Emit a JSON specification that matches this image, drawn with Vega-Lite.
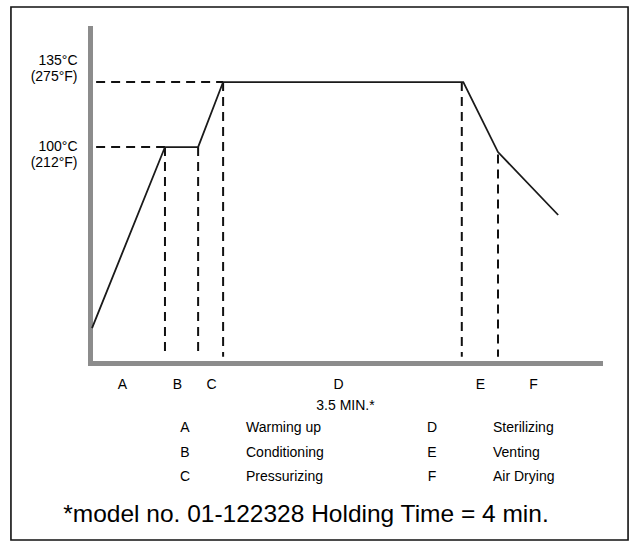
{
  "$schema": "https://vega.github.io/schema/vega-lite/v6.json",
  "width": 510,
  "height": 335,
  "autosize": {"type": "none"},
  "padding": {"left": 90, "top": 28, "right": 30, "bottom": 183},
  "background": "white",
  "config": {"view": {"stroke": null}, "font": "Liberation Sans"},
  "datasets": {
    "curve": [
      {"t": 0.04, "temp": 2.5},
      {"t": 1.47, "temp": 100},
      {"t": 2.12, "temp": 100},
      {"t": 2.61, "temp": 135},
      {"t": 7.32, "temp": 135},
      {"t": 8.0, "temp": 97.3},
      {"t": 9.18, "temp": 63.4}
    ],
    "guides": [
      {"t": 0.12, "t2": 2.61, "temp": 135, "temp2": 135},
      {"t": 0.12, "t2": 1.47, "temp": 100, "temp2": 100},
      {"t": 1.47, "t2": 1.47, "temp": 100, "temp2": -13},
      {"t": 2.12, "t2": 2.12, "temp": 100, "temp2": -13},
      {"t": 2.61, "t2": 2.61, "temp": 135, "temp2": -13},
      {"t": 7.29, "t2": 7.29, "temp": 135, "temp2": -13},
      {"t": 8.0, "t2": 8.0, "temp": 96, "temp2": -13}
    ],
    "legend": [
      {"code": "A", "name": "Warming up", "col": 1, "row": 1},
      {"code": "B", "name": "Conditioning", "col": 1, "row": 2},
      {"code": "C", "name": "Pressurizing", "col": 1, "row": 3},
      {"code": "D", "name": "Sterilizing", "col": 2, "row": 1},
      {"code": "E", "name": "Venting", "col": 2, "row": 2},
      {"code": "F", "name": "Air Drying", "col": 2, "row": 3}
    ]
  },
  "layer": [
    {
      "data": {"values": [{}]},
      "mark": {"type": "rect", "fill": null, "fillOpacity": 0, "stroke": "#111", "strokeWidth": 1.6},
      "encoding": {
        "x": {"datum": -1.55, "type": "quantitative", "scale": {"domain": [0, 10], "nice": false, "zero": false}, "axis": null},
        "x2": {"datum": 10.55},
        "y": {"datum": 175.4, "type": "quantitative", "scale": {"domain": [-16.3, 164.1], "nice": false, "zero": false}, "axis": null},
        "y2": {"datum": -111.6}
      }
    },
    {
      "data": {"name": "guides"},
      "mark": {"type": "rule", "strokeDash": [9, 6], "strokeWidth": 2, "color": "#111"},
      "encoding": {
        "x": {"field": "t", "type": "quantitative", "scale": {"domain": [0, 10], "nice": false, "zero": false}, "axis": null},
        "x2": {"field": "t2"},
        "y": {"field": "temp", "type": "quantitative", "scale": {"domain": [-16.3, 164.1], "nice": false, "zero": false}, "axis": null},
        "y2": {"field": "temp2"}
      }
    },
    {
      "data": {"name": "curve"},
      "mark": {"type": "line", "color": "#1a1a1a", "strokeWidth": 1.8},
      "encoding": {
        "x": {
          "field": "t", "type": "quantitative",
          "scale": {"domain": [0, 10], "nice": false, "zero": false},
          "axis": {
            "values": [0.627, 1.706, 2.373, 4.863, 7.647, 8.686],
            "labelExpr": "datum.value < 1 ? 'A' : datum.value < 2 ? 'B' : datum.value < 3 ? 'C' : datum.value < 6 ? 'D' : datum.value < 8 ? 'E' : 'F'",
            "domainColor": "#8c8c8c", "domainWidth": 5, "domainCap": "square",
            "ticks": false, "tickSize": 0, "grid": false,
            "labelPadding": 21, "labelBaseline": "middle", "labelAlign": "center",
            "labelFontSize": 14, "labelColor": "#000", "labelFlush": false, "labelOverlap": false,
            "title": "3.5 MIN.*", "titleFontSize": 14, "titleFontWeight": "normal", "titleColor": "#000",
            "titleY": 42, "titleBaseline": "middle"
          }
        },
        "y": {
          "field": "temp", "type": "quantitative",
          "scale": {"domain": [-16.3, 164.1], "nice": false, "zero": false},
          "axis": {
            "values": [100, 135],
            "labelExpr": "datum.value == 135 ? ['135°C', '(275°F)'] : ['100°C', '(212°F)']",
            "domainColor": "#8c8c8c", "domainWidth": 5, "domainCap": "square",
            "ticks": false, "tickSize": 0, "grid": false,
            "labelPadding": 13, "labelBaseline": "middle", "labelAlign": "right",
            "labelFontSize": 14, "labelLineHeight": 16.5, "labelColor": "#000",
            "labelOffset": {"condition": {"test": "datum.value == 135", "value": -22}, "value": -1},
            "title": null
          }
        }
      }
    },
    {
      "data": {"values": [{"note": "*model no. 01-122328 Holding Time = 4 min."}]},
      "mark": {"type": "text", "fontSize": 24.5, "align": "center", "baseline": "middle", "color": "#000"},
      "encoding": {
        "x": {"datum": 4.235, "type": "quantitative", "scale": {"domain": [0, 10], "nice": false, "zero": false}, "axis": null},
        "y": {"datum": -98.2, "type": "quantitative", "scale": {"domain": [-16.3, 164.1], "nice": false, "zero": false}, "axis": null},
        "text": {"field": "note"}
      }
    },
    {
      "data": {"name": "legend"},
      "mark": {"type": "text", "fontSize": 14, "align": "center", "baseline": "middle", "color": "#000"},
      "encoding": {
        "x": {"field": "col", "type": "quantitative", "scale": {"domain": [1, 2], "range": [95, 342], "nice": false, "zero": false}, "axis": null},
        "y": {"field": "row", "type": "quantitative", "scale": {"domain": [1, 3], "range": [400, 449], "nice": false, "zero": false}, "axis": null},
        "text": {"field": "code"}
      }
    },
    {
      "data": {"name": "legend"},
      "mark": {"type": "text", "fontSize": 14, "align": "left", "baseline": "middle", "dx": 61, "color": "#000"},
      "encoding": {
        "x": {"field": "col", "type": "quantitative", "scale": {"domain": [1, 2], "range": [95, 342], "nice": false, "zero": false}, "axis": null},
        "y": {"field": "row", "type": "quantitative", "scale": {"domain": [1, 3], "range": [400, 449], "nice": false, "zero": false}, "axis": null},
        "text": {"field": "name"}
      }
    }
  ],
  "resolve": {"scale": {"x": "independent", "y": "independent"}}
}
